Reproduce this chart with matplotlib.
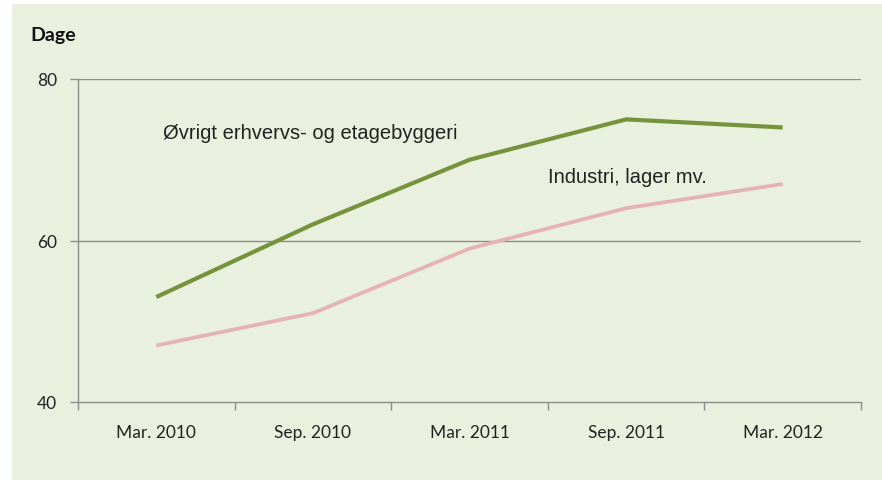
import matplotlib.pyplot as plt
from matplotlib.patches import Rectangle
from matplotlib.ticker import FixedLocator, NullFormatter

# {{{ data
periods = ["Mar. 2010", "Sep. 2010", "Mar. 2011", "Sep. 2011", "Mar. 2012"]
oevrigt = [53, 62, 70, 75, 74]
industri = [47, 51, 59, 64, 67]
# }}}

BG = "#EAF0DE"
GRID = "#8C8C8C"
GREEN = "#76923C"
PINK = "#E5B3B1"

W, H = 882, 481
fig = plt.figure(figsize=(W / 100, H / 100), dpi=100)
fig.patch.set_facecolor("white")
# light panel behind the chart, leaves a thin white margin top/left
fig.patches.append(
    Rectangle((12 / W, 0), 1, 1 - 5 / H, transform=fig.transFigure,
              facecolor=BG, edgecolor="none", zorder=-10)
)

ax = fig.add_axes([78 / W, 78 / H, (861 - 78) / W, (403 - 80) / H])
ax.set_facecolor(BG)
ax.patch.set_alpha(0)

x = list(range(len(periods)))
ax.plot(x, oevrigt, color=GREEN, lw=3.0, solid_capstyle="butt", zorder=3)
ax.plot(x, industri, color=PINK, lw=2.7, solid_capstyle="butt", zorder=3)

ax.set_xlim(-0.5, len(periods) - 0.5)
ax.set_ylim(40, 80)

# category boundaries get tick marks, labels sit in between
ax.xaxis.set_major_locator(FixedLocator([i - 0.5 for i in range(len(periods) + 1)]))
ax.xaxis.set_major_formatter(NullFormatter())
ax.xaxis.set_minor_locator(FixedLocator(x))
ax.set_xticklabels(periods, minor=True)
ax.tick_params(axis="x", which="major", length=6, width=1, color=GRID, direction="out")
ax.tick_params(axis="x", which="minor", length=0, pad=15.5, labelsize=12.5,
               labelcolor="#222222")

ax.set_yticks([40, 60, 80])
ax.tick_params(axis="y", length=6, width=1, color=GRID, pad=9, labelsize=12.5,
               labelcolor="#222222")
for lbl in ax.get_xticklabels(minor=True) + ax.get_yticklabels():
    lbl.set_fontfamily("Lato")

for y in (60, 80):
    ax.axhline(y, color=GRID, lw=1, zorder=1)
for side in ("top", "right"):
    ax.spines[side].set_visible(False)
for side in ("left", "bottom"):
    ax.spines[side].set_color(GRID)
    ax.spines[side].set_linewidth(1)

ax.text(0.043, 73.4, "Øvrigt erhvervs- og etagebyggeri", family="Liberation Sans",
        fontsize=14.5, color="#222222", va="center", ha="left")
ax.text(2.5, 67.9, "Industri, lager mv.", family="Liberation Sans",
        fontsize=14.5, color="#222222", va="center", ha="left")

fig.text(30 / W, 1 - 41 / H, "Dage", family="Lato", fontweight="bold",
         fontsize=14, color="#111111", va="baseline", ha="left")

fig.savefig("out.png", dpi=100, facecolor=fig.get_facecolor())
